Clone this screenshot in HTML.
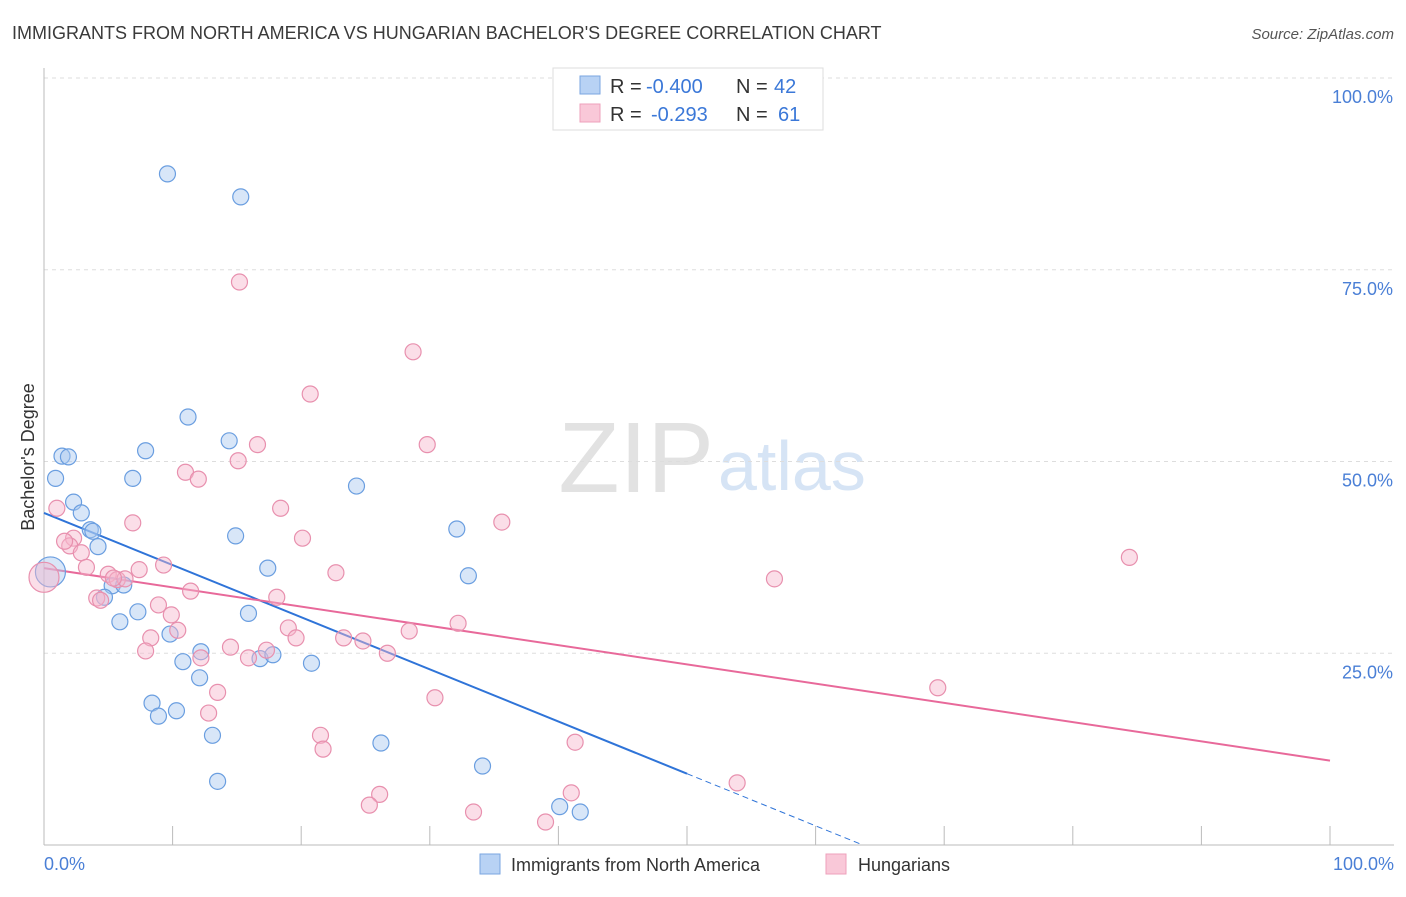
<!DOCTYPE html>
<html><head><meta charset="utf-8"><style>
body{margin:0;background:#fff;font-family:"Liberation Sans",sans-serif;}
svg text{font-family:"Liberation Sans",sans-serif;}
</style></head><body>
<svg id="chart" width="1406" height="892" xmlns="http://www.w3.org/2000/svg">
<text x="12" y="39" font-size="18" fill="#3a3a3a">IMMIGRANTS FROM NORTH AMERICA VS HUNGARIAN BACHELOR'S DEGREE CORRELATION CHART</text>
<text x="1394" y="39" font-size="15" fill="#555" text-anchor="end" font-style="italic">Source: ZipAtlas.com</text>
<text x="714" y="492" font-size="100" fill="#e2e2e2" text-anchor="end" font-family="Liberation Serif">ZIP</text>
<text x="718" y="490" font-size="70" fill="#d6e4f5">atlas</text>
<g id="grid"></g><g id="axes"></g><g id="lines"></g><g id="pts"></g>
<text transform="translate(34,457) rotate(-90)" font-size="18" fill="#333" text-anchor="middle">Bachelor's Degree</text>
<text x="44" y="870" font-size="18" fill="#4a7fd6">0.0%</text>
<text x="1394" y="870" font-size="18" fill="#4a7fd6" text-anchor="end">100.0%</text>
<g>
<rect x="553" y="68" width="270" height="62" fill="#fff" stroke="#ddd"/>
<rect x="580" y="76" width="20" height="18" fill="#b8d2f4" stroke="#7aa6e0"/>
<rect x="580" y="104" width="20" height="18" fill="#f9c8d8" stroke="#eea0bb"/>
<text x="610" y="93" font-size="20" fill="#333">R =</text>
<text x="646" y="93" font-size="20" fill="#3b78d8">-0.400</text>
<text x="736" y="93" font-size="20" fill="#333">N =</text>
<text x="774" y="93" font-size="20" fill="#3b78d8">42</text>
<text x="610" y="121" font-size="20" fill="#333">R =</text>
<text x="651" y="121" font-size="20" fill="#3b78d8">-0.293</text>
<text x="736" y="121" font-size="20" fill="#333">N =</text>
<text x="778" y="121" font-size="20" fill="#3b78d8">61</text>
</g>
<g>
<rect x="480" y="854" width="20" height="20" fill="#b8d2f4" stroke="#7aa6e0"/>
<text x="511" y="871" font-size="18" fill="#333">Immigrants from North America</text>
<rect x="826" y="854" width="20" height="20" fill="#f9c8d8" stroke="#eea0bb"/>
<text x="858" y="871" font-size="18" fill="#333">Hungarians</text>
</g>
</svg>
<script>
const yTicks=[25,50,75,100];
const yTickLabels=["25.0%","50.0%","75.0%","100.0%"];
const xTicks=[10,20,30,40,50,60,70,80,90,100];
const blueX=[9.6,15.3,11.2,14.4,7.9,1.4,1.9,0.9,6.9,24.3,2.3,2.9,3.6,3.8,32.1,4.2,14.9,0.5,17.4,33.0,5.3,6.2,4.7,7.3,15.9,5.9,9.8,12.2,16.8,17.8,10.8,20.8,12.1,8.4,10.3,8.9,13.1,26.2,34.1,13.5,40.1,41.7];
const blueY=[87.5,84.5,55.8,52.7,51.4,50.7,50.6,47.8,47.8,46.8,44.7,43.3,41.1,40.9,41.2,38.9,40.3,35.6,36.1,35.1,33.8,33.9,32.3,30.4,30.2,29.1,27.5,25.2,24.3,24.8,23.9,23.7,21.8,18.5,17.5,16.8,14.3,13.3,10.3,8.3,5.0,4.3];
const pinkX=[15.2,28.7,20.7,29.8,16.6,15.1,11.0,12.0,1.0,18.4,35.6,6.9,20.1,2.3,2.0,2.9,3.3,9.3,7.4,5.0,5.7,6.3,22.7,56.8,84.4,11.4,18.1,4.1,4.4,8.9,9.9,10.4,19.0,8.3,19.6,32.2,28.4,23.3,24.8,14.5,17.3,7.9,12.2,15.9,26.7,13.5,30.4,69.5,12.8,21.5,21.7,41.3,26.1,25.3,33.4,41.0,39.0,53.9,0.0,1.6,5.4];
const pinkY=[73.4,64.3,58.8,52.2,52.2,50.1,48.6,47.7,43.9,43.9,42.1,42.0,40.0,40.0,39.0,38.1,36.2,36.5,35.9,35.3,34.6,34.7,35.5,34.7,37.5,33.1,32.3,32.2,31.9,31.3,30.0,28.0,28.3,27.0,27.0,28.9,27.9,27.0,26.6,25.8,25.4,25.3,24.4,24.4,25.0,19.9,19.2,20.5,17.2,14.3,12.5,13.4,6.6,5.2,4.3,6.8,3.0,8.1,34.9,39.6,34.8];
const blueTrend=[43.3,-0.68];
const pinkTrend=[36.1,-0.251];
const X0=44,X1=1330,Y0=845,Y100=78;
const xs=v=>X0+(X1-X0)*v/100;
const ys=v=>Y0-(Y0-Y100)*v/100;
const NS="http://www.w3.org/2000/svg";
function mk(t,a,p){const e=document.createElementNS(NS,t);for(const k in a)e.setAttribute(k,a[k]);p.appendChild(e);return e;}
const grid=document.getElementById('grid'),axes=document.getElementById('axes'),lines=document.getElementById('lines'),pts=document.getElementById('pts');
yTicks.forEach((t,i)=>{
 const l=mk('line',{x1:44,x2:1394,y1:ys(t),y2:ys(t),stroke:'#ddd','stroke-dasharray':'4,4'},grid);
 
 
 const tx=mk('text',{x:1393,y:ys(t)+25,'font-size':18,fill:'#4a7fd6','text-anchor':'end'},grid);
 tx.textContent=yTickLabels[i];
 
 
});
const ya=mk('line',{x1:44,x2:44,y1:68,y2:845,stroke:'#bbb'},axes);


const xa=mk('line',{x1:44,x2:1394,y1:845,y2:845,stroke:'#bbb'},axes);


xTicks.forEach(t=>{
 const l=mk('line',{x1:xs(t),x2:xs(t),y1:826,y2:845,stroke:'#bbb'},axes);
 
 
});
function drawPts(X,Y,fill,stroke,name){
 X.forEach((x,i)=>{
  const big=(i===X.length-3&&name==='hungarian-point')||(name==='north-america-point'&&i===17);
  const c=mk('circle',{cx:xs(x),cy:ys(Y[i]),r:big?15:8,fill:fill,'fill-opacity':0.45,stroke:stroke,'stroke-width':1.2},pts);
  
  
 });
}
drawPts(blueX,blueY,'#a9c8f0','#6a9ee0','north-america-point');
drawPts(pinkX,pinkY,'#f7b6cb','#e890ae','hungarian-point');
const bEnd=50, bZero=-blueTrend[0]/blueTrend[1];
const bl=mk('line',{x1:xs(0),y1:ys(blueTrend[0]),x2:xs(bEnd),y2:ys(blueTrend[0]+blueTrend[1]*bEnd),stroke:'#2f74d8','stroke-width':2},lines);


const bd=mk('line',{x1:xs(bEnd),y1:ys(blueTrend[0]+blueTrend[1]*bEnd),x2:xs(bZero),y2:ys(0),stroke:'#2f74d8','stroke-width':1,'stroke-dasharray':'6,4'},lines);


const pl=mk('line',{x1:xs(0),y1:ys(pinkTrend[0]),x2:xs(100),y2:ys(pinkTrend[0]+pinkTrend[1]*100),stroke:'#e8699a','stroke-width':2},lines);


</script>
</body></html>
